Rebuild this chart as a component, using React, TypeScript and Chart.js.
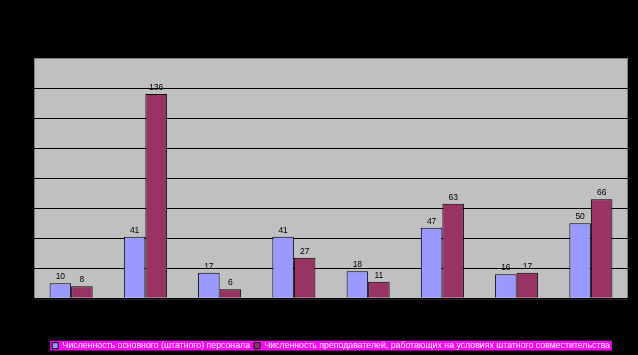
import React, { useEffect, useRef } from "react";
import { Chart, registerables } from "chart.js";

Chart.register(...registerables);

const categories = ["1", "2", "3", "4", "5", "6", "7", "8"];
const staffLabel = "Численность основного (штатного) персонала";
const partLabel = "Численность преподавателей, работающих на условиях штатного совместительства";
const staffValues = [10, 41, 17, 41, 18, 47, 16, 50];
const partValues = [8, 136, 6, 27, 11, 63, 17, 66];
const yMax = 160;
const yStep = 20;

const FONT = "'Liberation Sans', Arial, sans-serif";
const CANVAS_H = 360;

const bgPlugin = {
  id: "bgPlugin",
  beforeDraw(chart: any) {
    const { ctx, width, height, chartArea } = chart;
    ctx.save();
    ctx.fillStyle = "#000000";
    ctx.fillRect(0, 0, width, height);
    ctx.fillStyle = "#C0C0C0";
    ctx.fillRect(chartArea.left, chartArea.top, chartArea.right - chartArea.left, chartArea.bottom - chartArea.top);
    ctx.strokeStyle = "#808080";
    ctx.lineWidth = 1;
    ctx.strokeRect(chartArea.left + 0.5, chartArea.top + 0.5, chartArea.right - chartArea.left - 1, chartArea.bottom - chartArea.top);
    const lg = chart.legend;
    if (lg && lg.legendHitBoxes && lg.legendHitBoxes.length) {
      const boxes = lg.legendHitBoxes;
      let l = Infinity, r = -Infinity, t = Infinity, b = -Infinity;
      for (const h of boxes) {
        l = Math.min(l, h.left);
        r = Math.max(r, h.left + h.width);
        t = Math.min(t, h.top);
        b = Math.max(b, h.top + h.height);
      }
      ctx.fillStyle = "#FF00FF";
      ctx.fillRect(l - 2, t - 0.5, r - l + 4, b - t + 1);
    }
    ctx.restore();
  },
};

const labelPlugin = {
  id: "labelPlugin",
  afterDatasetsDraw(chart: any) {
    const { ctx } = chart;
    ctx.save();
    ctx.font = `8.5px ${FONT}`;
    ctx.fillStyle = "#000000";
    ctx.textAlign = "center";
    ctx.textBaseline = "alphabetic";
    chart.data.datasets.forEach((ds: any, i: number) => {
      const meta = chart.getDatasetMeta(i);
      meta.data.forEach((bar: any, j: number) => {
        ctx.fillText(String(ds.data[j]), bar.x, bar.y - 4);
      });
    });
    ctx.restore();
  },
};

export default function App() {
  const ref = useRef<HTMLCanvasElement | null>(null);
  useEffect(() => {
    if (!ref.current) return;
    const chart = new Chart(ref.current, {
      type: "bar",
      data: {
        labels: categories,
        datasets: [
          {
            label: staffLabel,
            data: staffValues,
            backgroundColor: "#9999FF",
            borderColor: "#000000",
            borderWidth: 1,
          },
          {
            label: partLabel,
            data: partValues,
            backgroundColor: "#993366",
            borderColor: "#000000",
            borderWidth: 1,
          },
        ],
      },
      options: {
        animation: false,
        responsive: false,
        maintainAspectRatio: false,
        devicePixelRatio: 1,
        layout: { padding: { left: 34, top: 58, right: 10, bottom: 0 } },
        datasets: { bar: { categoryPercentage: 0.58, barPercentage: 1 } },
        scales: {
          x: {
            display: true,
            grid: { display: false },
            border: { display: false },
            ticks: { display: false },
            afterFit: (s: any) => {
              s.height = 39;
            },
          },
          y: {
            min: 0,
            max: yMax,
            ticks: { display: false, stepSize: yStep },
            border: { display: false },
            grid: {
              drawTicks: false,
              color: (c: any) => (c.tick && c.tick.value === yMax ? "rgba(0,0,0,0)" : "#000000"),
              lineWidth: 1,
            },
            afterFit: (s: any) => {
              s.width = 0;
            },
          },
        },
        plugins: {
          legend: {
            display: true,
            position: "bottom",
            labels: {
              boxWidth: 6,
              boxHeight: 6,
              padding: 4,
              color: "#FFFFFF",
              font: { size: 8.75, family: FONT },
            },
          },
          tooltip: { enabled: false },
        },
      },
      plugins: [bgPlugin, labelPlugin],
    } as any);
    return () => chart.destroy();
  }, []);
  return (
    <div style={{ position: "fixed", left: 0, top: 0, width: 638, height: 355, overflow: "hidden", background: "#000" }}>
      <canvas ref={ref} width={638} height={CANVAS_H} style={{ display: "block", width: 638, height: CANVAS_H }} />
    </div>
  );
}
